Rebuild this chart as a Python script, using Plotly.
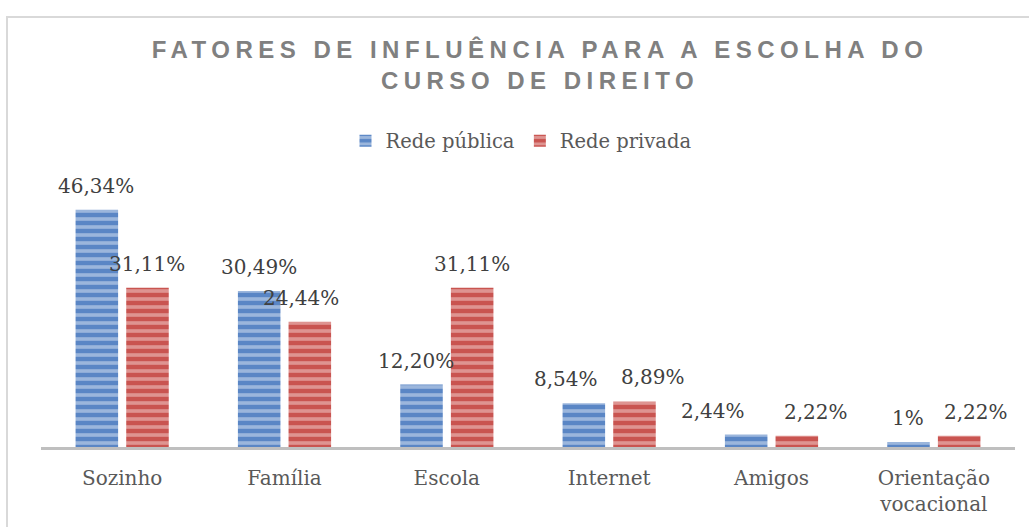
import plotly.graph_objects as go

categories = ["Sozinho", "Família", "Escola", "Internet", "Amigos", "Orientação<br>vocacional"]
publica = [46.34, 30.49, 12.20, 8.54, 2.44, 1.0]
privada = [31.11, 24.44, 31.11, 8.89, 2.22, 2.22]
publica_labels = ["46,34%", "30,49%", "12,20%", "8,54%", "2,44%", "1%"]
privada_labels = ["31,11%", "24,44%", "31,11%", "8,89%", "2,22%", "2,22%"]

# manual horizontal nudges of the data labels (px), as in the original chart
publica_nudge = [-1, 0, -6, -18, -33, -1]
privada_nudge = [0, -9, 0, 19, 19, 17]

serif = "DejaVu Serif"
label_font = dict(family=serif, size=20, color="#404040")

W, H = 1029, 527
ML, MR, MT, MB = 41, 14, 191, 80
BARGAP, GROUPGAP = 0.376, 0.16
plot_w = W - ML - MR
plot_h = H - MT - MB
cat_w = plot_w / len(categories)
slot = cat_w * (1 - BARGAP) / 2

fig = go.Figure()
fig.add_trace(go.Bar(
    name="Rede pública", x=categories, y=publica,
    marker=dict(color="#5A86C5", line=dict(width=0),
                pattern=dict(shape="-", fgcolor="#DCE6F4", bgcolor="#5A86C5", size=8, solidity=0.45)),
))
fig.add_trace(go.Bar(
    name="Rede privada", x=categories, y=privada,
    marker=dict(color="#C95450", line=dict(width=0),
                pattern=dict(shape="-", fgcolor="#F4D4D2", bgcolor="#C95450", size=8, solidity=0.45)),
))

annotations = []
for series, labels, nudges, sign in ((publica, publica_labels, publica_nudge, -1),
                                     (privada, privada_labels, privada_nudge, 1)):
    for c, v, t, n in zip(categories, series, labels, nudges):
        annotations.append(dict(
            x=c, y=v, xref="x", yref="y", text=t, showarrow=False,
            xshift=sign * slot / 2 + n, yshift=24, yanchor="middle", xanchor="center",
            font=label_font,
        ))

fig.update_layout(
    width=W, height=H,
    margin=dict(l=ML, r=MR, t=MT, b=MB, autoexpand=False),
    paper_bgcolor="white", plot_bgcolor="white",
    barmode="group", bargap=BARGAP, bargroupgap=GROUPGAP,
    title=dict(
        text='<span style="letter-spacing:5.5px">FATORES DE INFLUÊNCIA PARA A ESCOLHA DO<br>CURSO DE DIREITO</span>',
        x=(538 + 2) / W, xanchor="center", xref="container",
        y=1 - 58 / H, yanchor="top", yref="container",
        font=dict(family="Liberation Sans", size=24, color="#808080", weight="bold"),
    ),
    legend=dict(
        orientation="h", x=0.5 - 7 / plot_w, xanchor="center", y=(447 - 141) / plot_h, yanchor="middle",
        font=dict(family=serif, size=19.5, color="#595959"),
        bgcolor="rgba(0,0,0,0)", itemwidth=30,
    ),
    xaxis=dict(
        showline=True, linecolor="#BFBFBF", linewidth=3, ticks="",
        tickfont=dict(family=serif, size=20, color="#595959"),
        ticklabelstandoff=11,
        showgrid=False,
    ),
    yaxis=dict(range=[0, 50], visible=False, showgrid=False),
    annotations=annotations,
    showlegend=True,
    shapes=[dict(type="rect", xref="paper", yref="paper",
                 x0=(7 - ML) / plot_w, x1=1.2, y0=-1, y1=(447 - 17) / plot_h,
                 line=dict(color="#D9D9D9", width=2), layer="below")],
)

fig.write_html("out.html", config={"displayModeBar": False},
               post_script="document.body.style.margin='0';")
